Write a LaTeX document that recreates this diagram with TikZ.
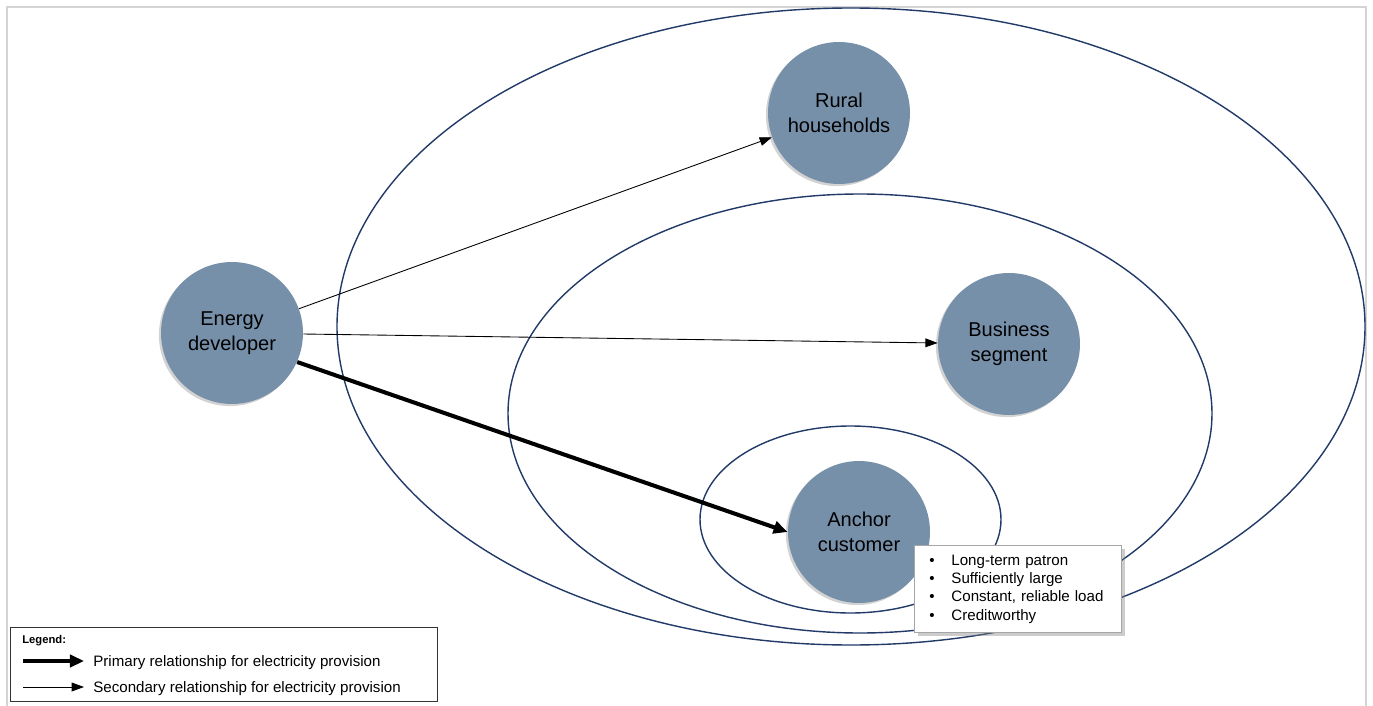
\documentclass[tikz,border=0pt]{standalone}
\usepackage{fontspec}
\setmainfont{Liberation Sans}
\usepackage{tikz}
\usetikzlibrary{
  positioning,
  arrows.meta,
  shadows
}
\definecolor{nodeblue}{HTML}{7790AA}
\definecolor{ringblue}{HTML}{213A68}
\definecolor{framegray}{HTML}{D4D4D4}

\tikzstyle{actor}=[circle, fill=nodeblue, minimum size=2.84cm, inner sep=0pt, align=center,
  font=\fontsize{11.4}{14.2}\selectfont,
  drop shadow={shadow xshift=-1.2pt, shadow yshift=-1.2pt, opacity=0.35}]
\tikzstyle{ring}=[ringblue, line width=0.8pt]
\tikzstyle{primary}=[->, >={Stealth[inset=0pt, length=8pt, width=7pt]}, line width=2.3pt]
\tikzstyle{secondary}=[->, >={Stealth[inset=0pt, length=7pt, width=5pt]}, line width=0.5pt]
\tikzstyle{smalltext}=[inner sep=0pt, anchor=west, font=\fontsize{8.6}{10.4}\selectfont]

\begin{document}
\begin{tikzpicture}[x=0.02cm, y=-0.02cm]
    % 画像の範囲
    \useasboundingbox (0,0) rectangle (1373,706);

    % 外枠
    \draw[framegray, line width=1.1pt] (7,706) -- (7,7) -- (1366,7) -- (1366,706);

    % 楕円の描画
    \draw[ring] (851,326.5) ellipse [x radius=514, y radius=318.5];
    \draw[ring] (860,413.5) ellipse [x radius=352, y radius=219.5];
    \draw[ring] (850.5,519.5) ellipse [x radius=150.5, y radius=93.5];

    % 円ノード
    \node[actor] (dev) at (232,333) {Energy\\developer};
    \node[actor] (rural) at (839,113) {Rural\\households};
    \node[actor] (business) at (1009,344) {Business\\segment};
    \node[actor] (anchor) at (859,532) {Anchor\\customer};

    % 矢印の描画
    \draw[secondary] (dev) -- (rural);
    \draw[secondary] (dev) -- (business);
    \draw[primary] (dev.-24) -- (anchor.west);

    % 特徴の箱
    \node[draw=gray!70, fill=white, line width=0.6pt, anchor=north west,
      inner xsep=0pt, inner ysep=0pt, text width=4.14cm, minimum height=1.74cm,
      drop shadow={shadow xshift=2pt, shadow yshift=-2pt, opacity=0.4},
      font=\fontsize{8.6}{10.4}\selectfont] (traits) at (914,545)
      {\begin{tabular}{@{\hspace{8.5pt}}l@{\hspace{9.5pt}}l@{}}
        \textbullet & Long-term patron\\
        \textbullet & Sufficiently large\\
        \textbullet & Constant, reliable load\\
        \textbullet & Creditworthy
      \end{tabular}};

    % 凡例
    \node[draw=black!80, fill=white, line width=0.6pt, anchor=north west, inner sep=0pt,
      minimum width=8.54cm, minimum height=1.48cm] (legend) at (10,627) {};
    \node[smalltext, font=\bfseries\fontsize{6.4}{7.5}\selectfont] (legtitle) at (22,641) {Legend:};
    \coordinate (p1) at (23,661);
    \coordinate (p2) at (84,661);
    \coordinate (s1) at (23,687);
    \coordinate (s2) at (84,687);
    \draw[primary] (p1) -- (p2);
    \draw[secondary] (s1) -- (s2);
    \node[smalltext] (primlabel) at (93,662.5) {Primary relationship for electricity provision};
    \node[smalltext] (seclabel) at (93,688.5) {Secondary relationship for electricity provision};
\end{tikzpicture}
\end{document}
